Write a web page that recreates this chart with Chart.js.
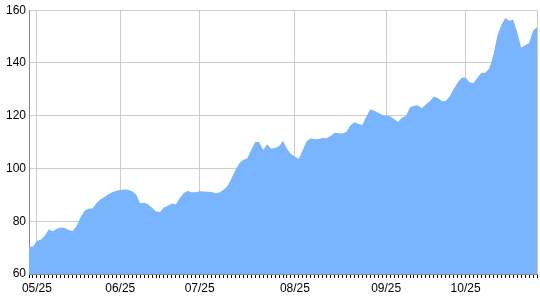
<!DOCTYPE html>
<html>
<head>
<meta charset="utf-8">
<script src="https://cdn.jsdelivr.net/npm/chart.js@4/dist/chart.umd.min.js"></script>
<style>
  body { margin: 0; background: #fff; }
</style>
</head>
<body>
<canvas id="myChart" width="540" height="300"></canvas>
<script>
// daily closes
const values = [
  70.4, 70.4, 72.5, 73.1, 74.5, 77.0, 76.2, 77.2, 77.6, 77.4,
  76.7, 76.3, 78.2, 81.5, 84.0, 84.7, 84.8, 86.8, 88.2, 89.2,
  90.2, 91.0, 91.6, 91.8, 92.0, 91.9, 91.4, 90.1, 86.8, 87.0,
  86.4, 85.1, 83.7, 83.5, 85.2, 85.9, 86.7, 86.3, 88.8, 90.7,
  91.5, 91.0, 91.0, 91.4, 91.3, 91.2, 91.1, 90.6, 90.9, 91.9,
  93.3, 96.2, 99.3, 102.0, 103.3, 103.8, 107.1, 110.0, 110.0, 107.0,
  109.2, 107.5, 107.8, 108.4, 110.5, 107.5, 105.5, 104.4, 103.7, 107.1,
  110.4, 111.4, 111.1, 111.2, 111.6, 111.5, 112.3, 113.5, 113.4, 113.3,
  113.9, 116.4, 117.5, 117.0, 116.5, 119.7, 122.5, 121.9, 121.1, 120.4,
  120.0, 119.8, 118.8, 117.6, 119.3, 119.9, 123.2, 123.8, 123.9, 122.8,
  124.3, 125.5, 127.3, 126.7, 125.6, 125.6, 127.3, 130.1, 132.5, 134.4,
  134.5, 132.7, 132.4, 134.5, 136.3, 136.3, 138.0, 143.0, 150.1, 154.4,
  157.0, 156.0, 156.4, 151.7, 145.8, 146.7, 147.5, 152.2, 153.6
];

// month labels and the day they start on
const months = ["05/25", "06/25", "07/25", "08/25", "09/25", "10/25"];
const monthStart = [2, 23, 43, 67, 90, 110];

const yTicks = [60, 80, 100, 120, 140, 160];

const labels = values.map((v, i) => {
  const k = monthStart.indexOf(i);
  return k >= 0 ? months[k] : "";
});

Chart.defaults.font.family = "'Liberation Sans', Arial, sans-serif";
Chart.defaults.font.size = 12;
Chart.defaults.color = "#000";

const ctx = document.getElementById("myChart");

new Chart(ctx, {
  type: "line",
  data: {
    labels: labels,
    datasets: [
      {
        data: values,
        fill: "start",
        backgroundColor: "#79b4ff",
        borderWidth: 0,
        pointRadius: 0,
        tension: 0,
      },
    ],
  },
  options: {
    responsive: false,
    animation: false,
    layout: { padding: { top: 6, right: 1 } },
    plugins: {
      legend: { display: false },
      tooltip: { enabled: false },
    },
    scales: {
      x: {
        type: "category",
        offset: false,
        ticks: {
          autoSkip: false,
          maxRotation: 0,
          padding: 3,
          color: "#000",
        },
        grid: {
          color: (c) =>
            labels[c.index] !== "" || c.index === values.length - 1
              ? "#cccccc"
              : "rgba(0,0,0,0)",
          tickColor: "#000",
          tickLength: 4,
        },
        border: { color: "#888", width: 1 },
        afterFit: (scale) => {
          scale.height = 26;
        },
      },
      y: {
        min: yTicks[0],
        max: yTicks[yTicks.length - 1],
        afterBuildTicks: (scale) => {
          scale.ticks = yTicks.map((v) => ({ value: v }));
        },
        ticks: { padding: 3, color: "#000" },
        grid: { color: "#cccccc", drawTicks: false },
        border: { color: "#888", width: 1 },
        afterFit: (scale) => {
          scale.width = 29;
        },
      },
    },
  },
});
</script>
</body>
</html>
